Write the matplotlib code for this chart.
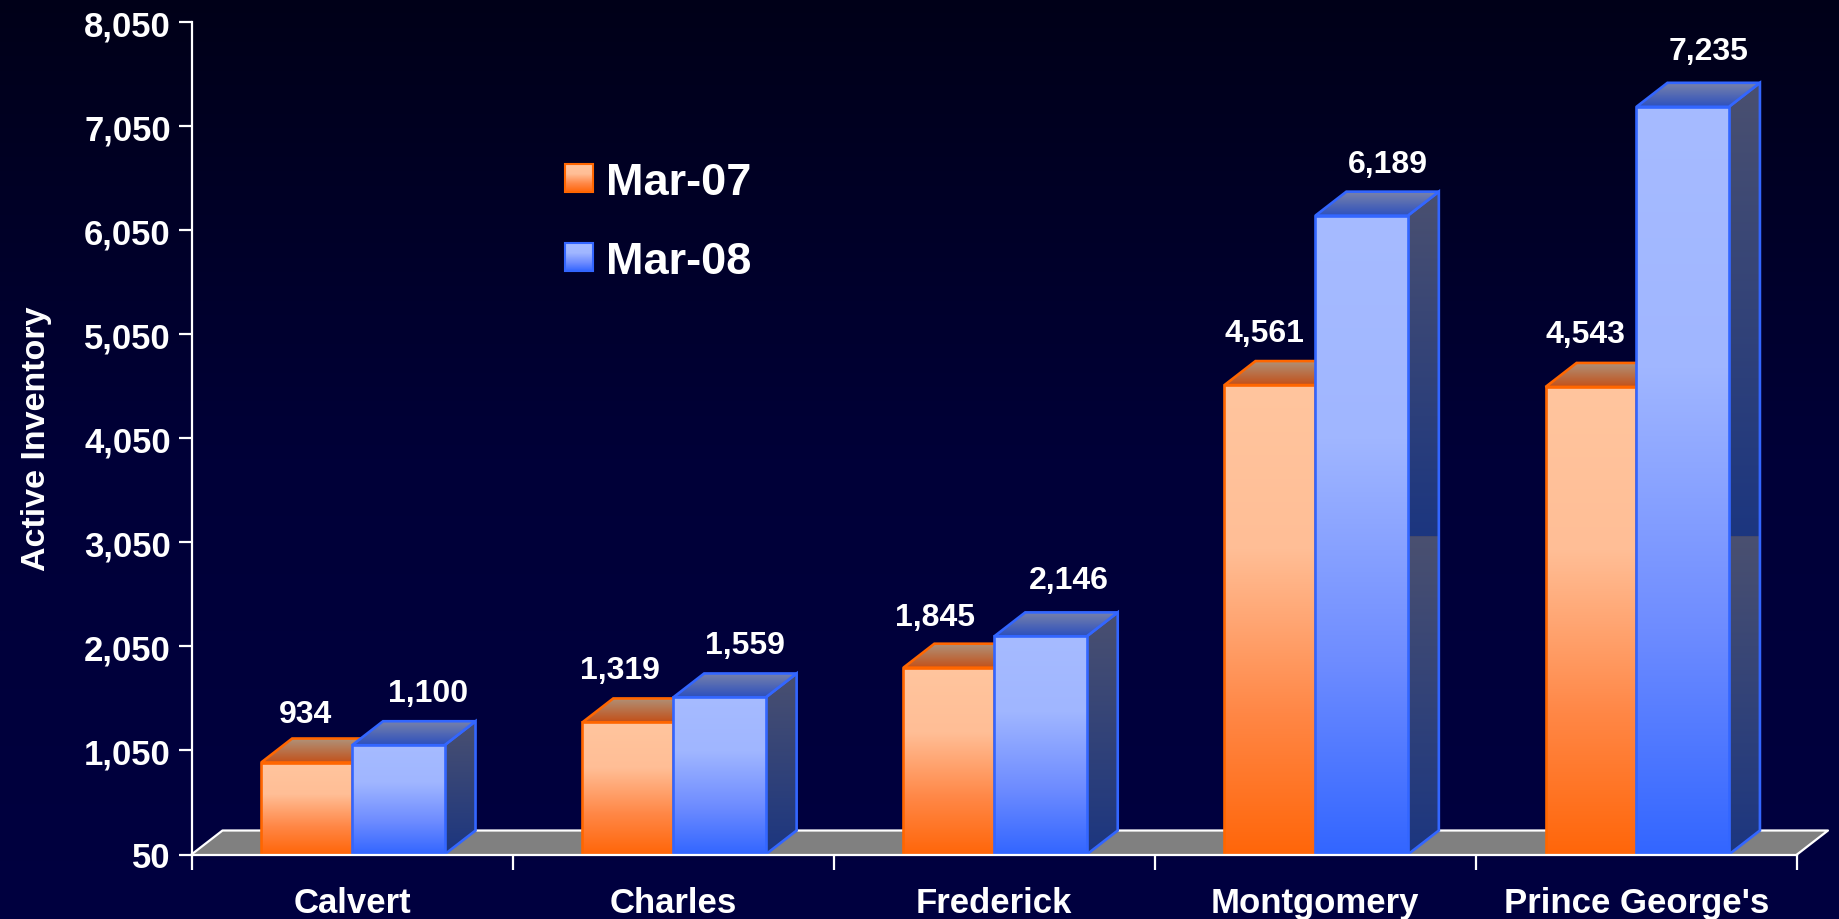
#!/usr/bin/env python
# coding: utf-8

import numpy as np
import matplotlib
matplotlib.use('Agg')
import matplotlib.pyplot as plt
from matplotlib.colors import LinearSegmentedColormap
from matplotlib.patches import Polygon

counties = ['Calvert', 'Charles', 'Frederick', 'Montgomery', "Prince George's"]
mar_07 = [934, 1319, 1845, 4561, 4543]
mar_08 = [1100, 1559, 2146, 6189, 7235]
y_ticks = [50, 1050, 2050, 3050, 4050, 5050, 6050, 7050, 8050]
legend_names = ['Mar-07', 'Mar-08']

# label nudges off the bar centre, in pixels
nudge_07 = [-1, -8, -14, -5, -6]
nudge_08 = [30, 26, 28, 26, 26]
lift_07 = [41, 44, 43, 44, 45]
lift_08 = [44, 44, 48, 44, 48]

W, H = 1839, 920
AX_L, AX_R, AX_T, AX_B = 191.5, 1797, 23, 855.5
SEAM = 3110   # the side faces restart their shading here

plt.rcParams['font.family'] = ['Liberation Sans', 'DejaVu Sans']
plt.rcParams['font.weight'] = 'bold'


def rgb(*c):
    return tuple(v / 255 for v in c)


def ramp(stops):
    return LinearSegmentedColormap.from_list('r', [(p, rgb(*c)) for p, c in stops])


orange_front = ramp([(0, (255, 197, 158)), (.35, (255, 190, 150)), (.7, (255, 135, 70)), (1, (255, 102, 10))])
blue_front = ramp([(0, (166, 187, 255)), (.35, (160, 182, 255)), (.7, (110, 140, 255)), (1, (51, 102, 255))])
orange_top = ramp([(0, (175, 145, 120)), (1, (195, 80, 25))])
blue_top = ramp([(0, (120, 130, 170)), (1, (45, 80, 190))])
side = ramp([(0, (74, 80, 112)), (1, (28, 54, 128))])
grad = np.linspace(0, 1, 256).reshape(-1, 1)

fig = plt.figure(figsize=(W / 100, H / 100), dpi=100)

# pixel-space layer: background and legend
bg = fig.add_axes([0, 0, 1, 1])
bg.axis('off')
bg.imshow(grad, extent=(0, W, H, 0), aspect='auto', zorder=0,
          cmap=ramp([(0, (0, 0, 24)), (.5, (0, 0, 56)), (1, (0, 0, 64))]))

for i, (name, cm, edge) in enumerate(zip(legend_names, [orange_front, blue_front], ['#FF6600', '#3366FF'])):
    top = 165 + i * 79
    bg.imshow(grad, extent=(565, 593, top + 28, top), aspect='auto', cmap=cm, zorder=2)
    bg.add_patch(Polygon([(565, top), (593, top), (593, top + 28), (565, top + 28)],
                         fill=False, edgecolor=edge, linewidth=1.5, zorder=3))
    bg.text(606, top + 30, name, color='white', fontsize=32.5, va='baseline', ha='left')
bg.set_xlim(0, W)
bg.set_ylim(H, 0)

ax = fig.add_axes([AX_L / W, 1 - AX_B / H, (AX_R - AX_L) / W, (AX_B - AX_T) / H])
ax.patch.set_visible(False)
ax.set_xlim(0, 5)
ax.set_ylim(50, 8050)
x_per_px = 5 / (AX_R - AX_L)
y_per_px = 8000 / (AX_B - AX_T)
dx = 31 * x_per_px
dy = 24 * y_per_px
bar_w_07 = 0.283
bar_w_08 = 0.288

# floor
ax.add_patch(Polygon([(0, 50), (dx, 50 + dy), (5 + dx, 50 + dy), (5, 50)], closed=True,
                     facecolor='#808080', edgecolor='none', clip_on=False, zorder=1))
ax.plot([0, dx, 5 + dx, 5], [50, 50 + dy, 50 + dy, 50], color='white', lw=1.6,
        clip_on=False, zorder=1.5)


def shaded(pts, cm, edge, z, y_span=None):
    poly = Polygon(pts, closed=True, facecolor='none', edgecolor=edge, linewidth=1.9,
                   joinstyle='miter', zorder=z + 0.5)
    ax.add_patch(poly)
    xs = [p[0] for p in pts]
    ys = [p[1] for p in pts]
    lo, hi = y_span if y_span else (min(ys), max(ys))
    im = ax.imshow(grad, extent=(min(xs), max(xs), lo, hi), origin='upper', aspect='auto',
                   cmap=cm, zorder=z)
    im.set_clip_path(poly)


def draw_bar(x0, width, val, front_cm, top_cm, edge, z):
    x1 = x0 + width
    # side face, shading restarts at the seam on tall bars
    if val > SEAM:
        shaded([(x1, SEAM), (x1 + dx, SEAM), (x1 + dx, val + dy), (x1, val)], side, 'none', z,
               (SEAM, val + dy))
        shaded([(x1, 50), (x1 + dx, 50 + dy), (x1 + dx, SEAM), (x1, SEAM)], side, 'none', z, (50, SEAM))
        ax.add_patch(Polygon([(x1, 50), (x1 + dx, 50 + dy), (x1 + dx, val + dy), (x1, val)], closed=True,
                             fill=False, edgecolor=edge, linewidth=1.9, zorder=z + 0.5))
    else:
        shaded([(x1, 50), (x1 + dx, 50 + dy), (x1 + dx, val + dy), (x1, val)], side, edge, z)
    shaded([(x0, val), (x0 + dx, val + dy), (x1 + dx, val + dy), (x1, val)], top_cm, edge, z + 1)
    rect = ax.bar(x0, val - 50, width, bottom=50, align='edge', facecolor='none', edgecolor=edge,
                  linewidth=1.9, zorder=z + 2.5)[0]
    im = ax.imshow(grad, extent=(x0, x1, 50, val), origin='upper', aspect='auto', cmap=front_cm,
                   zorder=z + 2)
    im.set_clip_path(rect)


centres = np.arange(len(counties)) + 0.5
for i in range(len(counties)):
    draw_bar(centres[i] - bar_w_07, bar_w_07, mar_07[i], orange_front, orange_top, '#FF6600', 10 + i * 10)
    draw_bar(centres[i], bar_w_08, mar_08[i], blue_front, blue_top, '#3366FF', 15 + i * 10)
    ax.text(centres[i] - bar_w_07 / 2 + nudge_07[i] * x_per_px, mar_07[i] + lift_07[i] * y_per_px,
            f'{mar_07[i]:,}', color='white', fontsize=23, ha='center', va='baseline', zorder=80)
    ax.text(centres[i] + bar_w_08 / 2 + nudge_08[i] * x_per_px, mar_08[i] + lift_08[i] * y_per_px,
            f'{mar_08[i]:,}', color='white', fontsize=23, ha='center', va='baseline', zorder=80)

ax.set_xlim(0, 5)
ax.set_ylim(50, 8050)

for s in ['top', 'right']:
    ax.spines[s].set_visible(False)
for s in ['left', 'bottom']:
    ax.spines[s].set_color('white')
    ax.spines[s].set_linewidth(1.6)
    ax.spines[s].set_zorder(70)

ax.set_yticks(y_ticks)
ax.set_yticklabels([f'{v:,}' for v in y_ticks])
ax.set_xticks(np.arange(6))
ax.set_xticklabels([])
ax.set_xticks(centres, minor=True)
ax.set_xticklabels(counties, minor=True)
ax.tick_params(axis='y', colors='white', length=9.4, width=1.6, pad=5.5, labelsize=25)
ax.tick_params(axis='x', which='major', colors='white', length=10.5, width=1.6)
ax.tick_params(axis='x', which='minor', colors='white', length=0, pad=23, labelsize=25)
ax.set_ylabel('Active Inventory', color='white', fontsize=24.5, fontweight='bold')
ax.yaxis.set_label_coords((52 - AX_L) / (AX_R - AX_L), (AX_B - 439) / (AX_B - AX_T))

fig.savefig('out.png', dpi=100, facecolor='#000030')
